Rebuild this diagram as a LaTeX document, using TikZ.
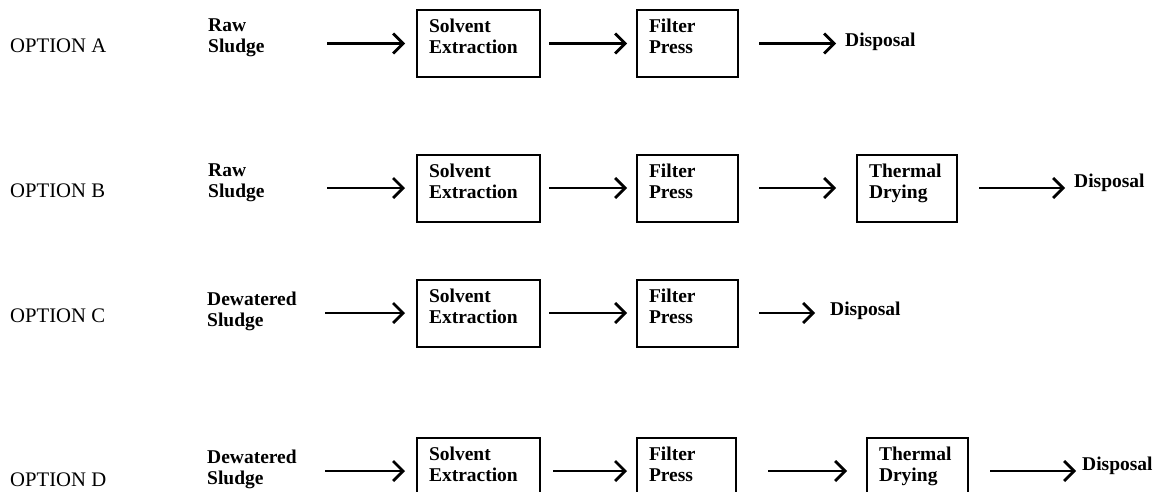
\documentclass[tikz,border=0pt]{standalone}
\usepackage{fontspec}
\setmainfont{Liberation Serif}
\usetikzlibrary{arrows.meta}
\newcommand{\boxtext}[2]{\parbox[b][49pt][t]{#1}{\fontsize{19.5}{21}\selectfont\bfseries\raggedright #2}}
\tikzset{
  opt/.style={anchor=base west, inner sep=0pt, font=\fontsize{20.7}{24}\selectfont},
  src/.style={anchor=west, inner sep=0pt, align=left, font=\fontsize{19.5}{21}\selectfont\bfseries},
  proc/.style={draw, line width=2pt, anchor=north west, inner xsep=12pt, inner ysep=9pt},
  dest/.style={anchor=base west, inner sep=0pt, font=\fontsize{19.5}{21}\selectfont\bfseries},
  arr/.style={line width=2.2pt, -{Straight Barb[length=10pt,width=20pt,line width=2.8pt]}},
}
\begin{document}
\begin{tikzpicture}[x=1pt,y=-1pt]
\useasboundingbox (0,0) rectangle (1164,491);
\clip (0,0) rectangle (1164,491);
% Option A
\node[opt] (optA) at (10,52) {OPTION A};
\node[src, text width=60pt] (srcA) at (208,38) {Raw\\Sludge};
\node[proc] (seA) at (416,9) {\boxtext{99pt}{Solvent\\Extraction}};
\node[proc] (fpA) at (636,9) {\boxtext{77pt}{Filter\\Press}};
\node[dest] (dA) at (845,46) {Disposal};
\draw[arr, shorten <=59pt, shorten >=11pt] (srcA.east |- seA.west) -- (seA.west);
\draw[arr, shorten <=8pt, shorten >=9pt] (seA) -- (fpA);
\draw[arr, shorten <=20pt, shorten >=9pt] (fpA.east) -- (dA.west |- fpA.east);
% Option B
\node[opt] (optB) at (10,197) {OPTION B};
\node[src, text width=60pt] (srcB) at (208,183) {Raw\\Sludge};
\node[proc] (seB) at (416,153.5) {\boxtext{99pt}{Solvent\\Extraction}};
\node[proc] (fpB) at (636,153.5) {\boxtext{77pt}{Filter\\Press}};
\node[proc] (tdB) at (856,153.5) {\boxtext{76pt}{Thermal\\Drying}};
\node[dest] (dB) at (1074,187) {Disposal};
\draw[arr, shorten <=59pt, shorten >=11pt] (srcB.east |- seB.west) -- (seB.west);
\draw[arr, shorten <=8pt, shorten >=9pt] (seB) -- (fpB);
\draw[arr, shorten <=20pt, shorten >=20pt] (fpB) -- (tdB);
\draw[arr, shorten <=21pt, shorten >=9pt] (tdB.east) -- (dB.west |- tdB.east);
% Option C
\node[opt] (optC) at (10,322) {OPTION C};
\node[src, text width=91pt] (srcC) at (207,311) {Dewatered\\Sludge};
\node[proc] (seC) at (416,278.5) {\boxtext{99pt}{Solvent\\Extraction}};
\node[proc] (fpC) at (636,278.5) {\boxtext{77pt}{Filter\\Press}};
\node[dest] (dC) at (830,315) {Disposal};
\draw[arr, shorten <=27pt, shorten >=11pt] (srcC.east |- seC.west) -- (seC.west);
\draw[arr, shorten <=8pt, shorten >=9pt] (seC) -- (fpC);
\draw[arr, shorten <=20pt, shorten >=15pt] (fpC.east) -- (dC.west |- fpC.east);
% Option D
\node[opt] (optD) at (10,486) {OPTION D};
\node[src, text width=91pt] (srcD) at (207,469.5) {Dewatered\\Sludge};
\node[proc] (seD) at (416,436.5) {\boxtext{99pt}{Solvent\\Extraction}};
\node[proc] (fpD) at (636,436.5) {\boxtext{75pt}{Filter\\Press}};
\node[proc] (tdD) at (866,436.5) {\boxtext{77pt}{Thermal\\Drying}};
\node[dest] (dD) at (1082,470) {Disposal};
\draw[arr, shorten <=27pt, shorten >=11pt] (srcD.east |- seD.west) -- (seD.west);
\draw[arr, shorten <=12pt, shorten >=9pt] (seD) -- (fpD);
\draw[arr, shorten <=31pt, shorten >=19pt] (fpD) -- (tdD);
\draw[arr, shorten <=21pt, shorten >=6pt] (tdD.east) -- (dD.west |- tdD.east);
\end{tikzpicture}
\end{document}
